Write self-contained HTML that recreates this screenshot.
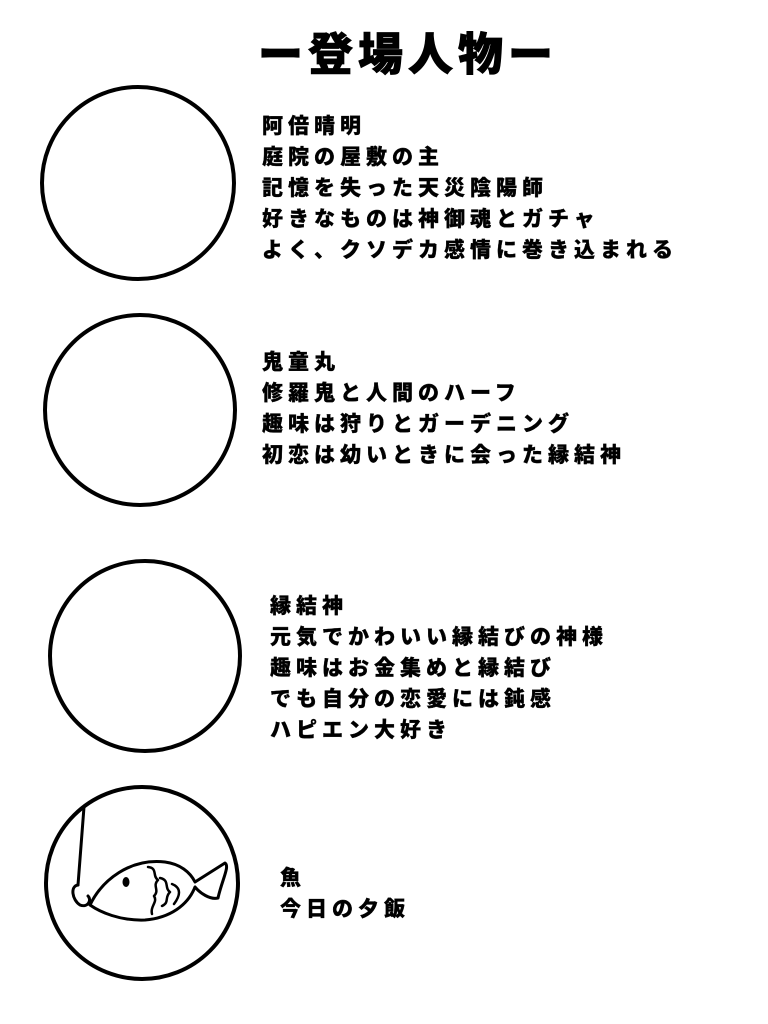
<!DOCTYPE html>
<html><head><meta charset="utf-8"><style>
body{margin:0;width:768px;height:1024px;background:#fff;position:relative;overflow:hidden;font-family:"Liberation Sans","Noto Sans CJK JP",sans-serif;font-weight:900;color:#000}
.t{position:absolute;font-size:21px;letter-spacing:5px;line-height:31px;white-space:nowrap;-webkit-text-stroke:0.3px #000}
.h{position:absolute;left:258px;top:26px;font-size:45px;line-height:58px;letter-spacing:5px;white-space:nowrap;-webkit-text-stroke:0.8px #000}
svg{position:absolute;left:0;top:0}
</style></head><body>
<svg width="768" height="1024" fill="none" stroke="#000" stroke-width="4" stroke-linecap="round" stroke-linejoin="round">
<circle cx="138" cy="183" r="96"/>
<circle cx="140" cy="410" r="95"/>
<circle cx="145" cy="656" r="95"/>
<circle cx="142" cy="883" r="96"/>
<path d="M84 807 L78 885" stroke-width="3"/>
<path d="M78 885 C70 886 72 900 80 905 C88 908 92 900 88 896" stroke-width="3"/>
<path d="M90 905 C102 880 130 858 165 862 C180 864 190 872 195 882 L225 863 C230 866 222 880 218 898 C210 900 200 893 195 887 C188 905 170 918 145 920 C120 921 100 912 90 905 Z" stroke-width="3"/>
<ellipse cx="126" cy="882" rx="3.5" ry="5" fill="#000" stroke="none"/>
<path d="M148 867 C158 868 152 876 158 880 C152 886 160 890 154 896 C158 902 150 906 152 914" stroke-width="2.5"/>
<path d="M160 878 C170 880 164 888 170 892 C164 898 170 902 162 906" stroke-width="2.5"/>
<path d="M172 884 C182 888 180 896 174 904" stroke-width="2.5"/>
</svg>
<div class="h">ー登場人物ー</div>
<div class="t" style="left:262px;top:111px">阿倍晴明<br>庭院の屋敷の主<br>記憶を失った天災陰陽師<br>好きなものは神御魂とガチャ<br>よく、クソデカ感情に巻き込まれる</div>
<div class="t" style="left:262px;top:347px">鬼童丸<br>修羅鬼と人間のハーフ<br>趣味は狩りとガーデニング<br>初恋は幼いときに会った縁結神</div>
<div class="t" style="left:270px;top:591px">縁結神<br>元気でかわいい縁結びの神様<br>趣味はお金集めと縁結び<br>でも自分の恋愛には鈍感<br>ハピエン大好き</div>
<div class="t" style="left:280px;top:863px">魚<br>今日の夕飯</div>
</body></html>
